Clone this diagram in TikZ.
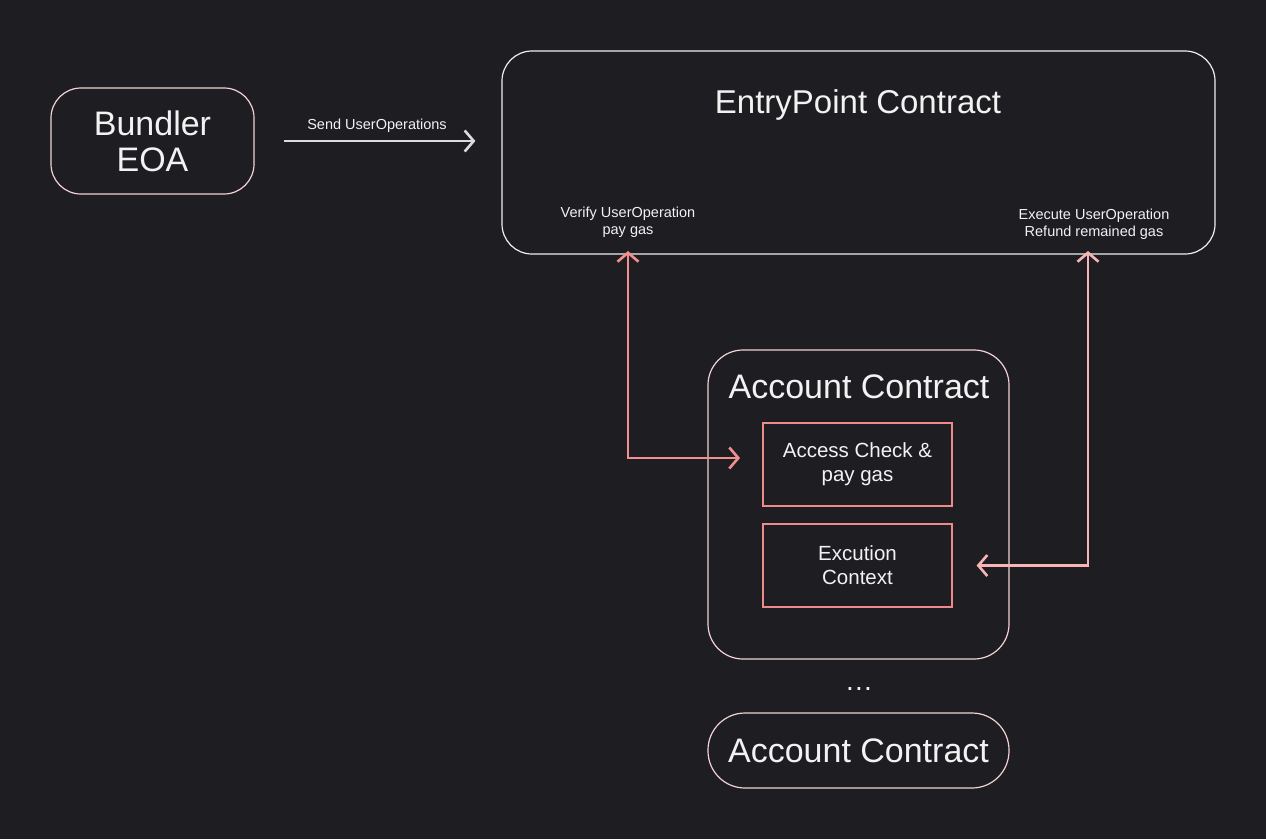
\documentclass[tikz,border=0pt]{standalone}
\usepackage{fontspec}
\setmainfont{Liberation Sans}
\usetikzlibrary{arrows.meta}
\definecolor{bgc}{RGB}{30,30,34}
\definecolor{txt}{RGB}{242,242,242}
\definecolor{lightpink}{RGB}{242,210,210}
\definecolor{epborder}{RGB}{238,238,238}
\definecolor{innerpink}{RGB}{238,138,138}
\definecolor{arrowA}{RGB}{242,143,143}
\definecolor{arrowB}{RGB}{247,181,181}
\definecolor{sendgrey}{RGB}{220,220,220}
\newcommand\fsz[2]{\fontsize{#1}{#2}\selectfont}
\tikzset{
  rbox/.style={draw=lightpink, line width=1.2pt, text=txt, inner sep=0pt},
  epbox/.style={draw=epborder, line width=1.2pt, rounded corners=30pt, inner sep=0pt},
  innerbox/.style={draw=innerpink, line width=1.2pt, text=txt, align=center, inner sep=0pt,
    minimum width=189pt, minimum height=83pt, font=\fsz{20.5}{24}},
  lbl/.style={text=txt, align=center, inner sep=0pt},
  chev/.tip={Straight Barb[length=9pt,width=21pt,line width=2.6pt]},
  pinkA/.style={draw=arrowA, line width=2.6pt, {chev}-{chev}},
  pinkB/.style={draw=arrowB, line width=2.6pt, {chev}-{chev}},
  sendarrow/.style={draw=sendgrey, line width=2.6pt, -{chev}}
}
\begin{document}
\begin{tikzpicture}[x=1pt,y=-1pt]
\useasboundingbox (0,0) rectangle (1266,839);
\fill[bgc] (0,0) rectangle (1266,839);

% Bundler
\node[rbox, rounded corners=30pt, align=center, minimum width=203pt, minimum height=106pt,
  font=\fsz{34}{36}] (bundler) at (152.5,141) {Bundler\\EOA};

% EntryPoint
\node[epbox, minimum width=713pt, minimum height=203pt] (ep) at (858.5,152.5) {};
\node[lbl, font=\fsz{33}{36}] (eptitle) at (858,104.5) {EntryPoint Contract};
\node[lbl, font=\fsz{14.5}{16.5}] (verify) at (628,222) {Verify UserOperation\\pay gas};
\node[lbl, font=\fsz{14.5}{16.5}] (execute) at (1094,224) {Execute UserOperation\\Refund remained gas};

% Send arrow
\node[lbl, font=\fsz{14.5}{16.5}] (sendlbl) at (377,126) {Send UserOperations};
\draw[sendarrow, shorten <=29pt, shorten >=26pt] (bundler.east) -- (ep.west |- bundler.east);

% Account contract
\node[rbox, rounded corners=35pt, minimum width=301pt, minimum height=309pt] (acc) at (858.5,504.5) {};
\node[lbl, font=\fsz{34}{36}] (acctitle) at (859,387) {Account Contract};
\node[innerbox] (access) at (857.5,464.5) {Access Check \&\\pay gas};
\node[innerbox] (exec) at (857.5,565.5) {Excution\\Context};

% dots
\node[lbl, font=\fsz{28}{28}] (dots) at (859,689) {.\kern1.2pt.\kern1.2pt.};

% Second account contract
\node[rbox, rounded corners=37pt, minimum width=301pt, minimum height=75pt,
  font=\fsz{34}{36}] (acc2) at (858.5,750.5) {Account Contract};

% Pink arrows
\coordinate (a1s) at (628,251);
\coordinate (a1e) at (740,458);
\draw[pinkA] (a1s) |- (a1e);
\coordinate (a2s) at (1088,251);
\draw[pinkB, shorten >=24pt] (a2s) |- (exec.east);
\end{tikzpicture}
\end{document}
